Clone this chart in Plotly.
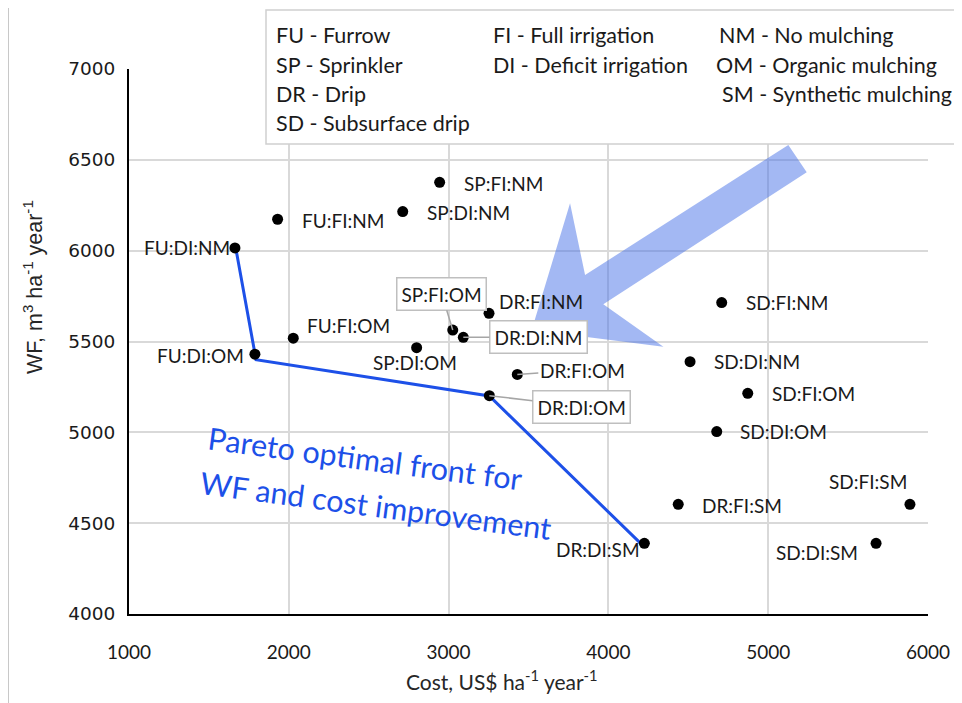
import plotly.graph_objects as go

# ---------------- data ----------------
labels = ["FU:FI:NM", "FU:DI:NM", "SP:FI:NM", "SP:DI:NM", "FU:FI:OM", "FU:DI:OM",
          "SP:FI:OM", "SP:DI:OM", "DR:FI:NM", "DR:DI:NM", "DR:FI:OM", "DR:DI:OM",
          "SD:FI:NM", "SD:DI:NM", "SD:FI:OM", "SD:DI:OM", "DR:FI:SM", "DR:DI:SM",
          "SD:FI:SM", "SD:DI:SM"]
cost = [1930, 1663, 2944, 2713, 2028, 1788,
        3026, 2800, 3253, 3092, 3430, 3255,
        4709, 4511, 4872, 4678, 4437, 4225,
        5887, 5675]
wf = [6173, 6015, 6376, 6215, 5518, 5430,
      5563, 5466, 5655, 5523, 5319, 5202,
      5714, 5389, 5215, 5004, 4604, 4389,
      4604, 4389]

pareto_cost = [1670, 1795, 3255, 4200]
pareto_wf = [6005, 5400, 5200, 4390]

x_ticks = [1000, 2000, 3000, 4000, 5000, 6000]
y_ticks = [4000, 4500, 5000, 5500, 6000, 6500, 7000]

legend_col1 = ["FU - Furrow", "SP - Sprinkler", "DR - Drip", "SD - Subsurface drip"]
legend_col2 = ["FI - Full irrigation", "DI - Deficit irrigation"]
legend_col3 = ["NM - No mulching", "OM - Organic mulching", "SM - Synthetic mulching"]

# ---------------- layout geometry (window pixels) ----------------
OFF = 8                      # page body margin
W, H = 962 - OFF, 703 - OFF  # figure size
L, R, T, B = 129, 928, 69, 614  # plot area in window pixels


def px(xp):
    return (xp - L) / (R - L)


def py(yp):
    return (B - yp) / (B - T)


FONT = "Lato, Calibri, sans-serif"
LBL_FONT = dict(family=FONT, size=19, color="#1a1a1a")
BLUE = "#1d50e8"

fig = go.Figure()

fig.add_trace(go.Scatter(
    x=pareto_cost, y=pareto_wf, mode="lines",
    line=dict(color=BLUE, width=3), hoverinfo="skip", showlegend=False))

fig.add_trace(go.Scatter(
    x=cost, y=wf, mode="markers", text=labels,
    marker=dict(color="black", size=11), showlegend=False))

# label placement: (xanchor, xshift, yshift)
place = {
    "FU:FI:NM": ("left", 22, -1), "FU:DI:NM": ("right", -3, 0),
    "SP:FI:NM": ("left", 22, -1), "SP:DI:NM": ("left", 22, -1),
    "FU:FI:OM": ("left", 12, 13), "FU:DI:OM": ("right", -9, -1),
    "SP:DI:OM": ("center", -2, -15), "DR:FI:NM": ("left", 8, 12),
    "SD:FI:NM": ("left", 22, 0), "SD:DI:NM": ("left", 22, 0),
    "SD:FI:OM": ("left", 22, 0), "SD:DI:OM": ("left", 21, 0),
    "DR:FI:SM": ("left", 22, -1), "SD:FI:SM": ("right", -1, 23),
    "DR:DI:SM": ("right", -2, -6), "SD:DI:SM": ("right", -16, -9),
}
# callout labels: (ax, ay, boxed)
callouts = {
    "SP:FI:OM": (-11, -36, True),
    "DR:DI:NM": (75, 0, True),
    "DR:DI:OM": (92, 11, True),
    "DR:FI:OM": (65, -4, False),
}

annotations = []
for lab, c, v in zip(labels, cost, wf):
    if lab in place:
        xa, xs, ys = place[lab]
        annotations.append(dict(x=c, y=v, xref="x", yref="y", text=lab, showarrow=False,
                                xanchor=xa, yanchor="middle", xshift=xs, yshift=ys,
                                font=LBL_FONT))
    else:
        ax, ay, boxed = callouts[lab]
        d = dict(x=c, y=v, xref="x", yref="y", text=lab, showarrow=True,
                 ax=ax, ay=ay, arrowhead=0, arrowwidth=1.5, arrowcolor="#a6a6a6",
                 standoff=0, font=LBL_FONT)
        if boxed:
            d.update(bordercolor="#bfbfbf", borderwidth=1.5, borderpad=4, bgcolor="white")
        annotations.append(d)

# legend box text
LEG_FONT = dict(family=FONT, size=21.5, color="#1a1a1a")
rows_y = [35, 65, 94, 123]
for t, yy in zip(legend_col1, rows_y):
    annotations.append(dict(x=px(274), y=py(yy), xref="paper", yref="paper", text=t,
                            showarrow=False, xanchor="left", yanchor="middle", font=LEG_FONT))
for t, yy in zip(legend_col2, rows_y):
    annotations.append(dict(x=px(491), y=py(yy), xref="paper", yref="paper", text=t,
                            showarrow=False, xanchor="left", yanchor="middle", font=LEG_FONT))
for t, yy, xx in zip(legend_col3, rows_y, [717, 714, 720]):
    annotations.append(dict(x=px(xx), y=py(yy), xref="paper", yref="paper", text=t,
                            showarrow=False, xanchor="left", yanchor="middle", font=LEG_FONT))

# Pareto text
PFONT = dict(family=FONT, size=30.5, color=BLUE)
annotations.append(dict(x=px(365), y=py(458), xref="paper", yref="paper",
                        text="Pareto optimal front for", showarrow=False, textangle=7.5,
                        xanchor="center", yanchor="middle", font=PFONT))
annotations.append(dict(x=px(376), y=py(505), xref="paper", yref="paper",
                        text="WF and cost improvement", showarrow=False, textangle=7.5,
                        xanchor="center", yanchor="middle", font=PFONT))

# axis titles
annotations.append(dict(x=px(33), y=py(287), xref="paper", yref="paper",
                        text="WF, m<sup>3</sup> ha<sup>-1</sup> year<sup>-1</sup>",
                        showarrow=False, textangle=-90, xanchor="center", yanchor="middle",
                        font=dict(family="Liberation Sans, Arial, sans-serif", size=21.5, color="#262626")))
annotations.append(dict(x=px(502), y=py(680), xref="paper", yref="paper",
                        text="Cost, US$ ha<sup>-1</sup> year<sup>-1</sup>",
                        showarrow=False, xanchor="center", yanchor="middle",
                        font=dict(family=FONT, size=21, color="#262626")))

# big translucent arrow (decoration) in data coordinates
arrow_pts = [(5126, 6582), (5241, 6431), (3968, 5705), (4344, 5471),
             (3520, 5563), (3760, 6261), (3854, 5866)]
path = "M " + " L ".join(f"{a},{b}" for a, b in arrow_pts) + " Z"

shapes = [
    dict(type="path", path=path, xref="x", yref="y",
         fillcolor="rgba(71,113,231,0.5)", line=dict(width=0), layer="above"),
    # legend box
    dict(type="rect", xref="paper", yref="paper", x0=px(266), x1=px(990),
         y0=py(144), y1=py(10), fillcolor="white", line=dict(color="#d0d0d0", width=1.5),
         layer="above"),
    # image frame line on the left
    dict(type="line", xref="paper", yref="paper", x0=px(8), x1=px(8), y0=py(-5), y1=py(708),
         line=dict(color="#c8c8c8", width=2)),
]

fig.update_layout(
    width=W, height=H,
    margin=dict(l=L - OFF, r=W - (R - OFF), t=T - OFF, b=H - (B - OFF), pad=0),
    paper_bgcolor="white", plot_bgcolor="white",
    showlegend=False,
    annotations=annotations, shapes=shapes,
    xaxis=dict(range=[1000, 6000], tickvals=x_ticks, showgrid=True, gridcolor="#d9d9d9",
               gridwidth=1.5, showline=True, linecolor="black", linewidth=2,
               zeroline=False, ticks="", ticklabelstandoff=20,
               tickfont=dict(family=FONT, size=19, color="#1a1a1a")),
    yaxis=dict(range=[4000, 7000], tickvals=y_ticks, showgrid=True, gridcolor="#d9d9d9",
               gridwidth=1.5, showline=True, linecolor="black", linewidth=2,
               zeroline=False, ticks="", ticklabelstandoff=8,
               tickfont=dict(family="DejaVu Sans, Verdana, sans-serif", size=18.5, color="#1a1a1a")),
)

fig.write_html("out.html")
